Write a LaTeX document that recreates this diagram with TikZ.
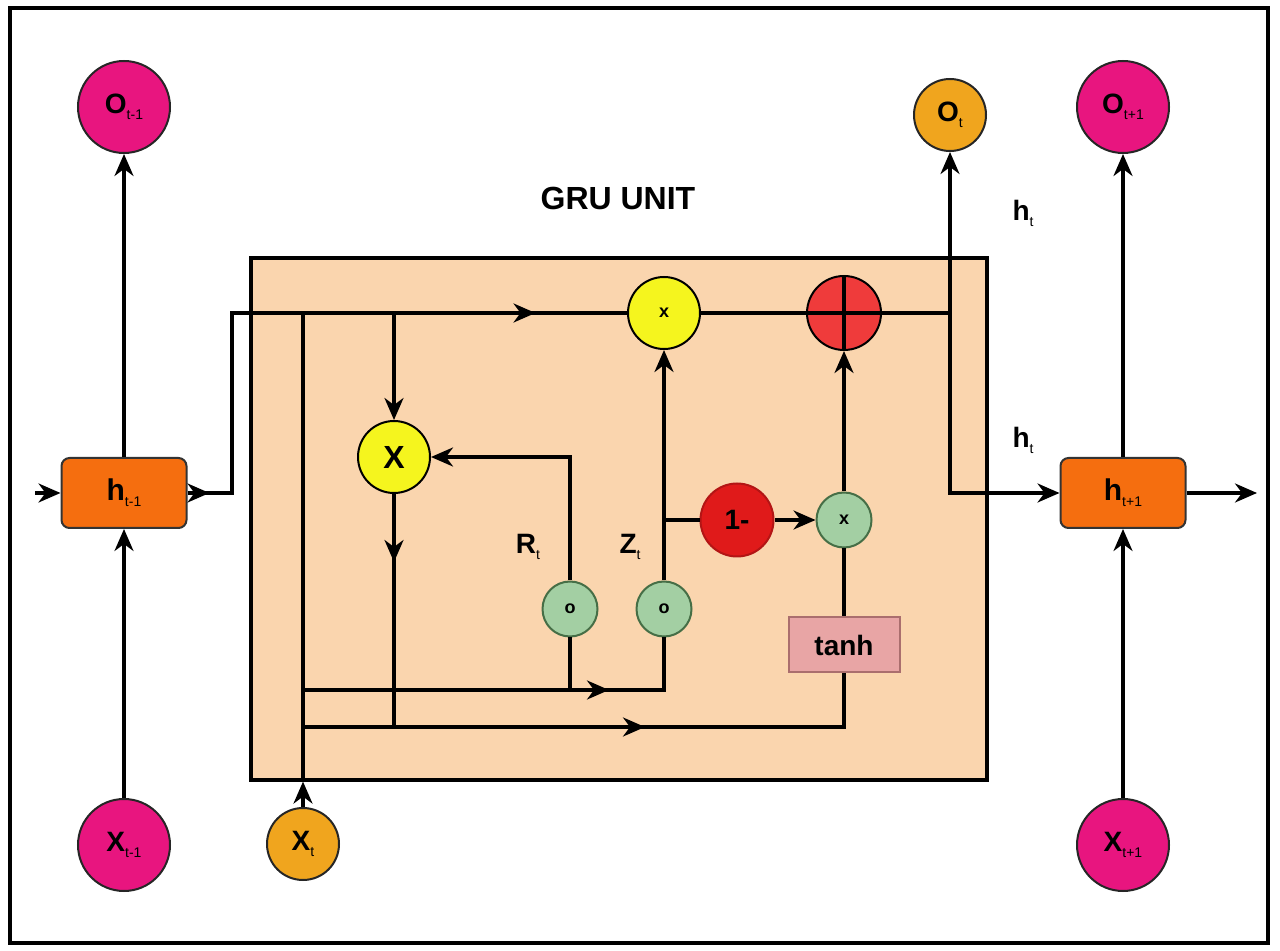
\documentclass[tikz,border=0pt]{standalone}
\usepackage{fontspec}
\setmainfont{Liberation Sans}
\usepackage{xcolor}
\usetikzlibrary{arrows.meta,positioning,decorations.markings}
\definecolor{gmag}{HTML}{E8157F}
\definecolor{gorange}{HTML}{F0A51E}
\definecolor{hfill}{HTML}{F56E0F}
\definecolor{gpeach}{HTML}{FAD5AE}
\definecolor{gyellow}{HTML}{F5F51E}
\definecolor{gplus}{HTML}{EF3B3B}
\definecolor{gone}{HTML}{E01A1A}
\definecolor{ggreen}{HTML}{A3CFA3}
\definecolor{ggreenline}{HTML}{466E46}
\definecolor{gtanh}{HTML}{E8A5A5}
\definecolor{gtanhline}{HTML}{AA6E6E}
\newcommand{\gsub}[2]{#1\raisebox{-0.4ex}{\fontsize{7}{8}\selectfont\mdseries #2}}

\begin{document}
\begin{tikzpicture}[x=0.5pt,y=-0.5pt,
  ln/.style={line width=1.6pt},
  arr/.style={ln,-{Stealth[length=11pt,width=9.5pt,inset=3.5pt]}},
  midarr/.style={postaction={decorate,decoration={markings,mark=at position #1 with {\arrow{Stealth[length=11pt,width=9.5pt,inset=3.5pt]}}}}},
  bigc/.style={circle,draw=black!85,line width=1pt,fill=gmag,minimum size=46pt,inner sep=0pt,font=\bfseries\fontsize{14}{16}\selectfont},
  orc/.style={bigc,fill=gorange,minimum size=36pt},
  hbox/.style={rectangle,rounded corners=4pt,draw=black!80,line width=1pt,fill=hfill,minimum width=62.5pt,minimum height=35pt,inner sep=0pt,font=\bfseries\fontsize{15}{17}\selectfont},
  gru/.style={draw,line width=1.6pt,fill=gpeach,minimum width=368pt,minimum height=261pt,inner sep=0pt},
  yel/.style={circle,draw,line width=1pt,fill=gyellow,minimum size=36pt,inner sep=0pt,font=\bfseries},
  gate/.style={circle,draw=ggreenline,line width=1pt,fill=ggreen,minimum size=27.5pt,inner sep=0pt,font=\bfseries\small},
  redc/.style={circle,draw=gone!80!black,line width=1pt,fill=gone,minimum size=36.5pt,inner sep=0pt,font=\bfseries\fontsize{14}{16}\selectfont},
  plusc/.style={circle,draw,line width=1pt,fill=gplus,minimum size=37pt,inner sep=0pt},
  tanhbox/.style={draw=gtanhline,line width=1pt,fill=gtanh,minimum width=55.5pt,minimum height=27.5pt,inner sep=0pt,font=\bfseries\fontsize{14}{16}\selectfont},
  lbl/.style={font=\bfseries\fontsize{14}{16}\selectfont}]
\useasboundingbox (0,0) rectangle (1280,951);
\draw[line width=1.6pt] (10,8) rectangle (1268,943);

% GRU cell
\node[gru] (gru) at (619,519) {};
\node[font=\bfseries\fontsize{16}{18}\selectfont] (title) at (618,198) {GRU UNIT};

% outer sequence
\node[bigc] (oprev) at (124,107) {\gsub{O}{t-1}};
\node[hbox] (hprev) at (124,493) {\gsub{h}{t-1}};
\node[bigc] (xprev) at (124,845) {\gsub{X}{t-1}};
\node[orc] (ot) at (950,115) {\gsub{O}{t}};
\node[orc] (xt) at (303,844) {\gsub{X}{t}};
\node[bigc] (onext) at (1123,107) {\gsub{O}{t+1}};
\node[hbox] (hnext) at (1123,493) {\gsub{h}{t+1}};
\node[bigc] (xnext) at (1123,845) {\gsub{X}{t+1}};
\node[lbl] (hlabA) at (1023,213) {\gsub{h}{t}};
\node[lbl] (hlabB) at (1023,440) {\gsub{h}{t}};

% inside the cell
\node[yel,font=\bfseries\small] (zmul) at (664,313) {x};
\node[plusc] (plus) at (844,313) {};
\node[yel,font=\bfseries\fontsize{16}{18}\selectfont] (bigx) at (394,457) {X};
\node[gate] (rg) at (570,609) {o};
\node[gate] (zg) at (664,609) {o};
\node[redc] (one) at (737,520) {1-};
\node[gate] (gx) at (844,520) {x};
\node[tanhbox] (tanh) at (844,645) {tanh};
\node[lbl] (rlab) at (528,547) {\gsub{R}{t}};
\node[lbl] (zlab) at (630,547) {\gsub{Z}{t}};

\coordinate (inL) at (35,493);
\coordinate (outR) at (1257,493);
\coordinate (c1) at (232,493);
\coordinate (c2) at (232,313);
\coordinate (jxt) at (303,313);
\coordinate (jbig) at (394,313);
\coordinate (jout) at (950,313);
\coordinate (jturn) at (950,493);
\coordinate (jl1) at (303,690);
\coordinate (jl2) at (303,727);

\draw[arr] (xprev) -- (hprev);
\draw[arr] (hprev) -- (oprev);
\draw[arr] (inL) -- (hprev.west);
\draw[ln,midarr=11pt,midarr=264pt] (hprev.east) -- (c1) -- (c2) -- (zmul.west);
\draw[ln] (zmul) -- (plus);
\draw[ln] (plus.east) -- (jout);
\draw[arr] (jout) -- (ot);
\draw[arr] (jout) -- (jturn) -- (hnext.west);
\draw[arr] (hnext.east) -- (outR);
\draw[arr] (xnext) -- (hnext);
\draw[arr] (hnext) -- (onext);
\draw[arr] (xt) -- (xt |- gru.south);
\draw[ln] (xt |- gru.south) -- (jxt);
\draw[arr] (jbig) -- (bigx);
\draw[ln,midarr=34pt] (bigx.south) -- (bigx.south |- jl2);
\draw[arr] (rg.north) -- (rg.north |- bigx) -- (bigx.east);
\draw[ln] (rg.south) -- (rg.south |- jl1);
\draw[ln,midarr=153pt] (jl1) -- (zg.south |- jl1) -- (zg.south);
\draw[arr] (zg) -- (zmul);
\draw[ln] (zg.north |- one) -- (one.west);
\draw[arr] (one) -- (gx);
\draw[arr] (gx) -- (plus);
\draw[ln] (gx) -- (tanh);
\draw[ln,midarr=171pt] (jl2) -- (tanh.south |- jl2) -- (tanh.south);
\draw[ln] (plus.north) -- (plus.south) (plus.west) -- (plus.east);
\end{tikzpicture}
\end{document}
